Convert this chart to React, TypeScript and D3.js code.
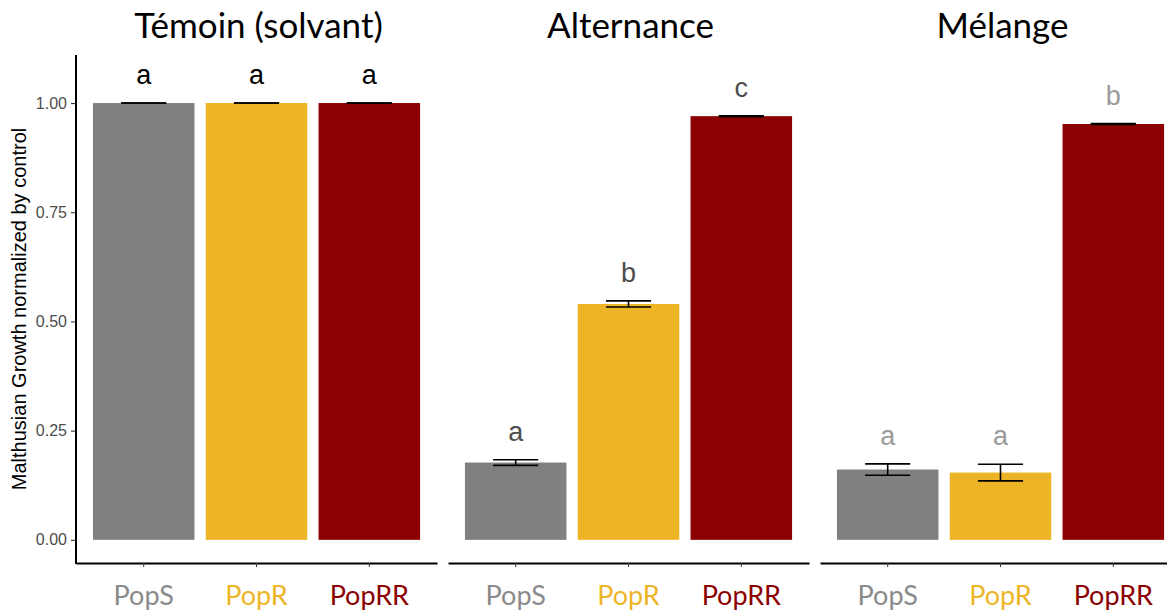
import React, { useEffect, useRef } from "react";
import * as d3 from "d3";

// Data
const populations = ["PopS", "PopR", "PopRR"];
const treatments = ["Témoin (solvant)", "Alternance", "Mélange"];
const temoinMeans = [1.0, 1.0, 1.0];
const temoinSe = [0.0, 0.0, 0.0];
const temoinLetters = ["a", "a", "a"];
const alternanceMeans = [0.177, 0.54, 0.97];
const alternanceSe = [0.0065, 0.007, 0.001];
const alternanceLetters = ["a", "b", "c"];
const melangeMeans = [0.161, 0.154, 0.952];
const melangeSe = [0.013, 0.019, 0.001];
const melangeLetters = ["a", "a", "b"];
const yTicks = [0, 0.25, 0.5, 0.75, 1];

const popColors = ["#808080", "#EDB526", "#8B0000"];
const labelColors = ["#8a8a8a", "#EDB526", "#8B0000"];
const letterColors = ["#000000", "#4d4d4d", "#9a9a9a"];

const App = () => {
    const svgRef = useRef<SVGSVGElement>(null);

    useEffect(() => {
        const svg = d3.select(svgRef.current);
        svg.selectAll("*").remove();

        const width = 1167;
        const height = 613;
        const margin = { top: 55, left: 76, bottom: 50 };
        const panelWidth = 361;
        const panelGap = 11;
        const plotBottom = height - margin.bottom;

        svg.attr("width", width).attr("height", height);

        const yScale = d3.scaleLinear().domain([-0.053, 1.11]).range([plotBottom, margin.top]);

        const panels = [
            { means: temoinMeans, se: temoinSe, letters: temoinLetters },
            { means: alternanceMeans, se: alternanceSe, letters: alternanceLetters },
            { means: melangeMeans, se: melangeSe, letters: melangeLetters },
        ];

        // Y axis (only on first panel)
        const yAxis = svg
            .append("g")
            .attr("transform", `translate(${margin.left}, 0)`)
            .call(d3.axisLeft(yScale).tickValues(yTicks).tickFormat(d3.format(".2f")).tickSize(5).tickPadding(4));
        yAxis.select(".domain").remove();
        yAxis.selectAll(".tick line").attr("stroke", "#333").attr("stroke-width", 1.1);
        yAxis
            .selectAll(".tick text")
            .style("font-size", "16px")
            .style("font-family", "Liberation Sans, Arial")
            .attr("fill", "#4d4d4d");
        svg
            .append("line")
            .attr("x1", margin.left)
            .attr("x2", margin.left)
            .attr("y1", margin.top)
            .attr("y2", plotBottom + 1)
            .attr("stroke", "black")
            .attr("stroke-width", 2);

        // Y axis title
        svg
            .append("text")
            .attr("transform", `translate(26, ${(margin.top + plotBottom) / 2}) rotate(-90)`)
            .style("text-anchor", "middle")
            .style("font-family", "Liberation Sans, Arial")
            .style("font-size", "20px")
            .attr("fill", "black")
            .text("Malthusian Growth normalized by control");

        panels.forEach((panel, p) => {
            const x0 = margin.left + p * (panelWidth + panelGap);
            const xScale = d3
                .scaleBand()
                .domain(populations)
                .range([x0, x0 + panelWidth])
                .paddingInner(0.1)
                .paddingOuter(0.15);
            const step = xScale.step();
            const g = svg.append("g");

            // Title
            g.append("text")
                .attr("x", x0 + panelWidth / 2 + 2)
                .attr("y", 38)
                .style("text-anchor", "middle")
                .style("font-family", "Lato, Open Sans, sans-serif")
                .style("font-size", "35px")
                .attr("fill", "black")
                .text(treatments[p]);

            // Bars
            g.selectAll("rect.bar")
                .data(populations)
                .enter()
                .append("rect")
                .attr("class", "bar")
                .attr("x", (d) => xScale(d)!)
                .attr("width", xScale.bandwidth())
                .attr("y", (d, i) => yScale(panel.means[i]))
                .attr("height", (d, i) => yScale(0) - yScale(panel.means[i]))
                .attr("fill", (d, i) => popColors[i]);

            // Error bars
            const capHalf = (step * 0.4) / 2;
            populations.forEach((pop, i) => {
                const cx = xScale(pop)! + xScale.bandwidth() / 2;
                const lo = yScale(panel.means[i] - panel.se[i]);
                const hi = yScale(panel.means[i] + panel.se[i]);
                g.append("line")
                    .attr("x1", cx).attr("x2", cx)
                    .attr("y1", lo).attr("y2", hi)
                    .attr("stroke", "black").attr("stroke-width", 1.6);
                [lo, hi].forEach((yy) => {
                    g.append("line")
                        .attr("x1", cx - capHalf).attr("x2", cx + capHalf)
                        .attr("y1", yy).attr("y2", yy)
                        .attr("stroke", "black").attr("stroke-width", 1.6);
                });

                // Significance letters
                g.append("text")
                    .attr("x", cx)
                    .attr("y", hi - 19)
                    .style("text-anchor", "middle")
                    .style("font-family", "Liberation Sans, Arial")
                    .style("font-size", "27px")
                    .attr("fill", letterColors[p])
                    .text(panel.letters[i]);
            });

            // X axis
            const xAxis = g
                .append("g")
                .attr("transform", `translate(0, ${plotBottom})`)
                .call(d3.axisBottom(xScale).tickSize(4).tickPadding(12).tickSizeOuter(0));
            xAxis.select(".domain").attr("stroke", "black").attr("stroke-width", 2);
            xAxis.selectAll(".tick line").attr("stroke", "#333");
            xAxis
                .selectAll(".tick text")
                .style("font-family", "Lato, Open Sans, sans-serif")
                .style("font-size", "27px")
                .attr("dy", "0.95em")
                .attr("fill", (d, i) => labelColors[i]);
        });
    }, []);

    return (
        <div style={{ position: "absolute", left: 0, top: 0 }}>
            <svg ref={svgRef} style={{ display: "block", background: "white" }}></svg>
        </div>
    );
};

export default App;
